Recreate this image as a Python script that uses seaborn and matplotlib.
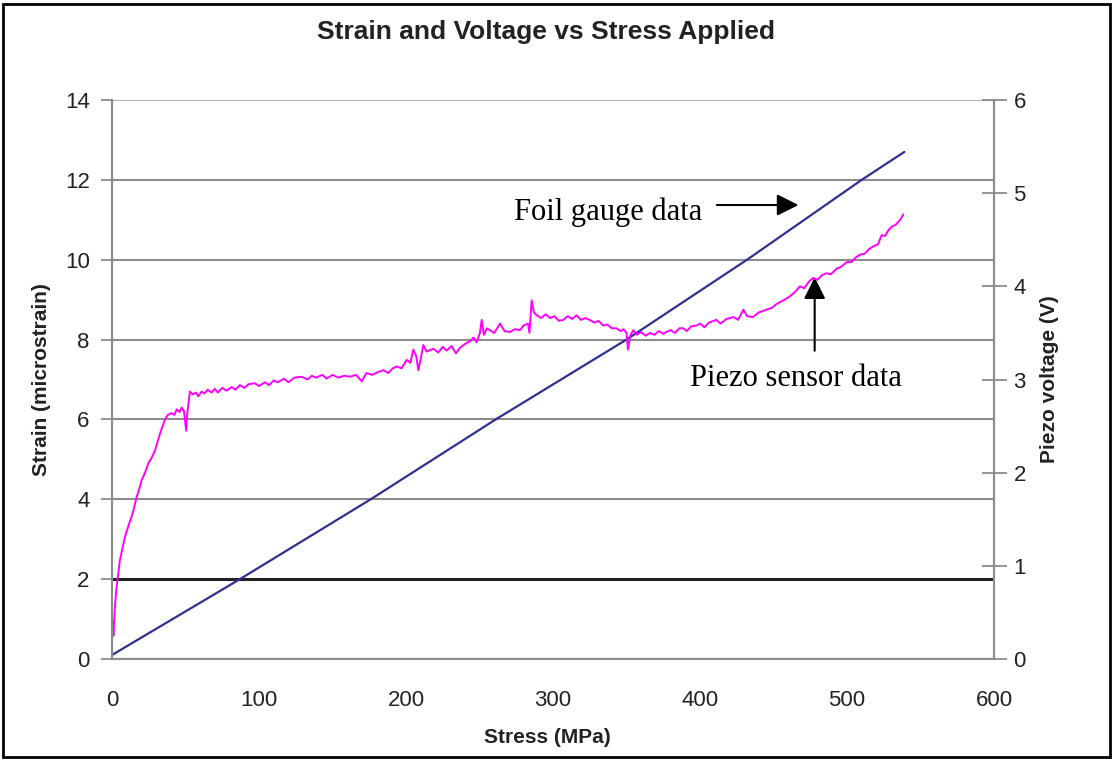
import pandas as pd
import matplotlib
matplotlib.use("Agg")
import matplotlib.pyplot as plt
import matplotlib.patches as mpatches
import seaborn as sns

# foil gauge strain (microstrain) vs stress (MPa)
foil_stress = [0, 87, 176, 261, 350, 432, 510, 539]
foil_strain = [0.1, 2.0, 4.0, 6.0, 8.0, 10.0, 12.0, 12.7]

# piezo sensor voltage (V) vs stress (MPa)
piezo_stress = [
    0, 0.5, 1, 2, 3, 4, 5.4, 7, 8.8, 11, 13.4, 15, 16.8, 18.5, 20.2, 22.5, 24.7, 27, 29.3, 31,
    32.7, 34.5, 36, 38, 40.6, 42.5, 44, 46, 47.4, 49, 50.5, 51, 52, 53, 55, 57, 58.7, 61, 63, 65,
    67.8, 70, 72, 75, 78, 81.4, 84, 87, 90, 93, 97.3, 100, 104, 107, 110, 113, 117, 120, 124, 129,
    133, 136, 139, 143, 146, 150, 154, 158, 162, 166, 170, 173, 177, 181, 184.6, 188, 191, 193.7, 197, 200.5,
    203, 205, 207, 208.4, 210, 211.8, 214, 218.6, 222, 225, 227.7, 231, 234, 236.7, 240, 243.5, 246, 248, 250.3, 251.5,
    253, 255, 257, 260, 262.8, 264, 267, 270.7, 274, 277.6, 280, 283, 284, 285.5, 287, 288.9, 292, 295, 298, 301,
    304, 307, 310, 313, 316, 319, 322, 325, 328, 331, 334, 337, 340, 343, 346, 348, 350, 351, 352.5, 354.6,
    357, 360, 363, 366, 369, 372, 375, 377, 380, 383, 386, 388.6, 391, 394, 397.7, 400, 403, 406, 411, 414,
    418, 422.7, 426, 429.5, 432, 436, 440, 445.4, 449, 452, 456.7, 460, 464, 468, 471, 474, 477, 480, 483, 486,
    489, 493, 496, 499.8, 503, 506, 508.8, 512, 515, 518, 521, 523.6, 526, 528, 530.4, 533, 536, 538.3,
]
piezo_volt = [
    0.17, 0.40, 0.25, 0.56, 0.75, 0.88, 1.06, 1.18, 1.31, 1.42, 1.53, 1.62, 1.74, 1.82, 1.92, 2.00, 2.10, 2.16, 2.24, 2.33,
    2.42, 2.50, 2.57, 2.62, 2.64, 2.62, 2.68, 2.65, 2.70, 2.66, 2.45, 2.60, 2.74, 2.87, 2.84, 2.86, 2.82, 2.87, 2.85, 2.89,
    2.86, 2.90, 2.86, 2.91, 2.88, 2.92, 2.89, 2.94, 2.91, 2.95, 2.96, 2.93, 2.97, 2.94, 2.99, 2.97, 3.01, 2.97, 3.02, 3.03,
    3.00, 3.04, 3.02, 3.05, 3.01, 3.05, 3.02, 3.04, 3.03, 3.05, 2.98, 3.07, 3.05, 3.08, 3.10, 3.07, 3.12, 3.14, 3.12, 3.21,
    3.18, 3.32, 3.25, 3.10, 3.22, 3.37, 3.30, 3.33, 3.29, 3.35, 3.31, 3.36, 3.28, 3.34, 3.38, 3.41, 3.45, 3.40, 3.50, 3.64,
    3.48, 3.55, 3.53, 3.50, 3.57, 3.60, 3.52, 3.51, 3.54, 3.53, 3.58, 3.60, 3.50, 3.85, 3.72, 3.69, 3.66, 3.70, 3.66, 3.68,
    3.63, 3.64, 3.68, 3.65, 3.69, 3.64, 3.66, 3.64, 3.61, 3.63, 3.58, 3.59, 3.55, 3.55, 3.52, 3.54, 3.50, 3.32, 3.47, 3.53,
    3.48, 3.51, 3.47, 3.50, 3.48, 3.52, 3.49, 3.51, 3.53, 3.50, 3.55, 3.55, 3.52, 3.57, 3.58, 3.60, 3.56, 3.61, 3.64, 3.60,
    3.65, 3.67, 3.64, 3.75, 3.68, 3.67, 3.72, 3.75, 3.77, 3.81, 3.85, 3.88, 3.93, 4.00, 3.98, 4.05, 4.09, 4.07, 4.12, 4.14,
    4.13, 4.19, 4.21, 4.26, 4.26, 4.31, 4.34, 4.35, 4.40, 4.43, 4.45, 4.55, 4.54, 4.60, 4.64, 4.66, 4.71, 4.77,
]

x_ticks = [0, 100, 200, 300, 400, 500, 600]
strain_ticks = [0, 2, 4, 6, 8, 10, 12, 14]
volt_ticks = [0, 1, 2, 3, 4, 5, 6]

foil = pd.DataFrame({"Stress": foil_stress, "Strain": foil_strain})
piezo = pd.DataFrame({"Stress": piezo_stress, "Voltage": piezo_volt})

sns.set_style("white")
plt.rcParams["font.family"] = ["Liberation Sans", "DejaVu Sans"]

fig = plt.figure(figsize=(11.14, 7.61), dpi=100)
ax = fig.add_axes([0.1005, 0.134, 0.7918, 0.7346])
ax2 = ax.twinx()

sns.lineplot(data=foil, x="Stress", y="Strain", ax=ax, color="#2E3192",
             linewidth=1.6, sort=False, estimator=None)
sns.lineplot(data=piezo, x="Stress", y="Voltage", ax=ax2, color="#FF00FF",
             linewidth=1.4, sort=False, estimator=None)

ax.set_xlim(0, 600)
ax.set_ylim(0, 14)
ax2.set_ylim(0, 6)
ax.set_xticks(x_ticks)
ax.set_yticks(strain_ticks)
ax2.set_yticks(volt_ticks)

grid_c = "#8C8C8C"
ax.yaxis.grid(True, color=grid_c, linewidth=1.5)
ax.set_axisbelow(True)
ax.get_ygridlines()[1].set_color("#222222")
ax.get_ygridlines()[1].set_linewidth(2.2)
ax.get_ygridlines()[-1].set_color("#B0B0B0")
ax2.grid(False)

for a in (ax, ax2):
    a.spines["top"].set_visible(False)
    for s in ("left", "right", "bottom"):
        a.spines[s].set_color(grid_c)
        a.spines[s].set_linewidth(1.5)

ax.tick_params(axis="y", direction="out", length=8, width=1.3, color=grid_c,
               labelsize=16, labelcolor="#222222", pad=8)
ax.tick_params(axis="x", direction="out", length=8, width=1.3, color=grid_c,
               labelsize=16, labelcolor="#222222", pad=14)
ax2.tick_params(axis="y", direction="inout", length=18, width=1.3, color=grid_c,
                labelsize=16, labelcolor="#222222", pad=5)

ax.set_xlabel("Stress (MPa)", fontsize=15, fontweight="bold", color="#222222")
ax.set_ylabel("Strain (microstrain)", fontsize=15, fontweight="bold", color="#222222")
ax2.set_ylabel("Piezo voltage (V)", fontsize=15, fontweight="bold", color="#222222")
ax.xaxis.set_label_coords(0.494, -0.124)
ax.yaxis.set_label_coords(-0.069, 0.5)
ax2.yaxis.set_label_coords(1.052, 0.5)

fig.text(0.490, 0.958, "Strain and Voltage vs Stress Applied", fontsize=19,
         fontweight="bold", color="#222222", ha="center", va="center")

serif = ["Liberation Serif", "DejaVu Serif"]
ax.text(273.5, 11.19, "Foil gauge data", fontsize=22, family=serif,
        ha="left", va="center", color="black")
ax.annotate("", xy=(467, 11.37), xytext=(411.5, 11.37),
            arrowprops=dict(arrowstyle="-|>", color="black", lw=1.5,
                            mutation_scale=33, shrinkA=0, shrinkB=0))
ax.text(393, 7.02, "Piezo sensor data", fontsize=22, family=serif,
        ha="left", va="center", color="black")
ax.annotate("", xy=(478, 9.56), xytext=(478, 7.72),
            arrowprops=dict(arrowstyle="-|>", color="black", lw=1.5,
                            mutation_scale=33, shrinkA=0, shrinkB=0))

fig.add_artist(mpatches.Rectangle((0.003, 0.005), 0.993, 0.99, transform=fig.transFigure,
                                  fill=False, edgecolor="black", linewidth=2))

fig.savefig("out.png", dpi=100)
